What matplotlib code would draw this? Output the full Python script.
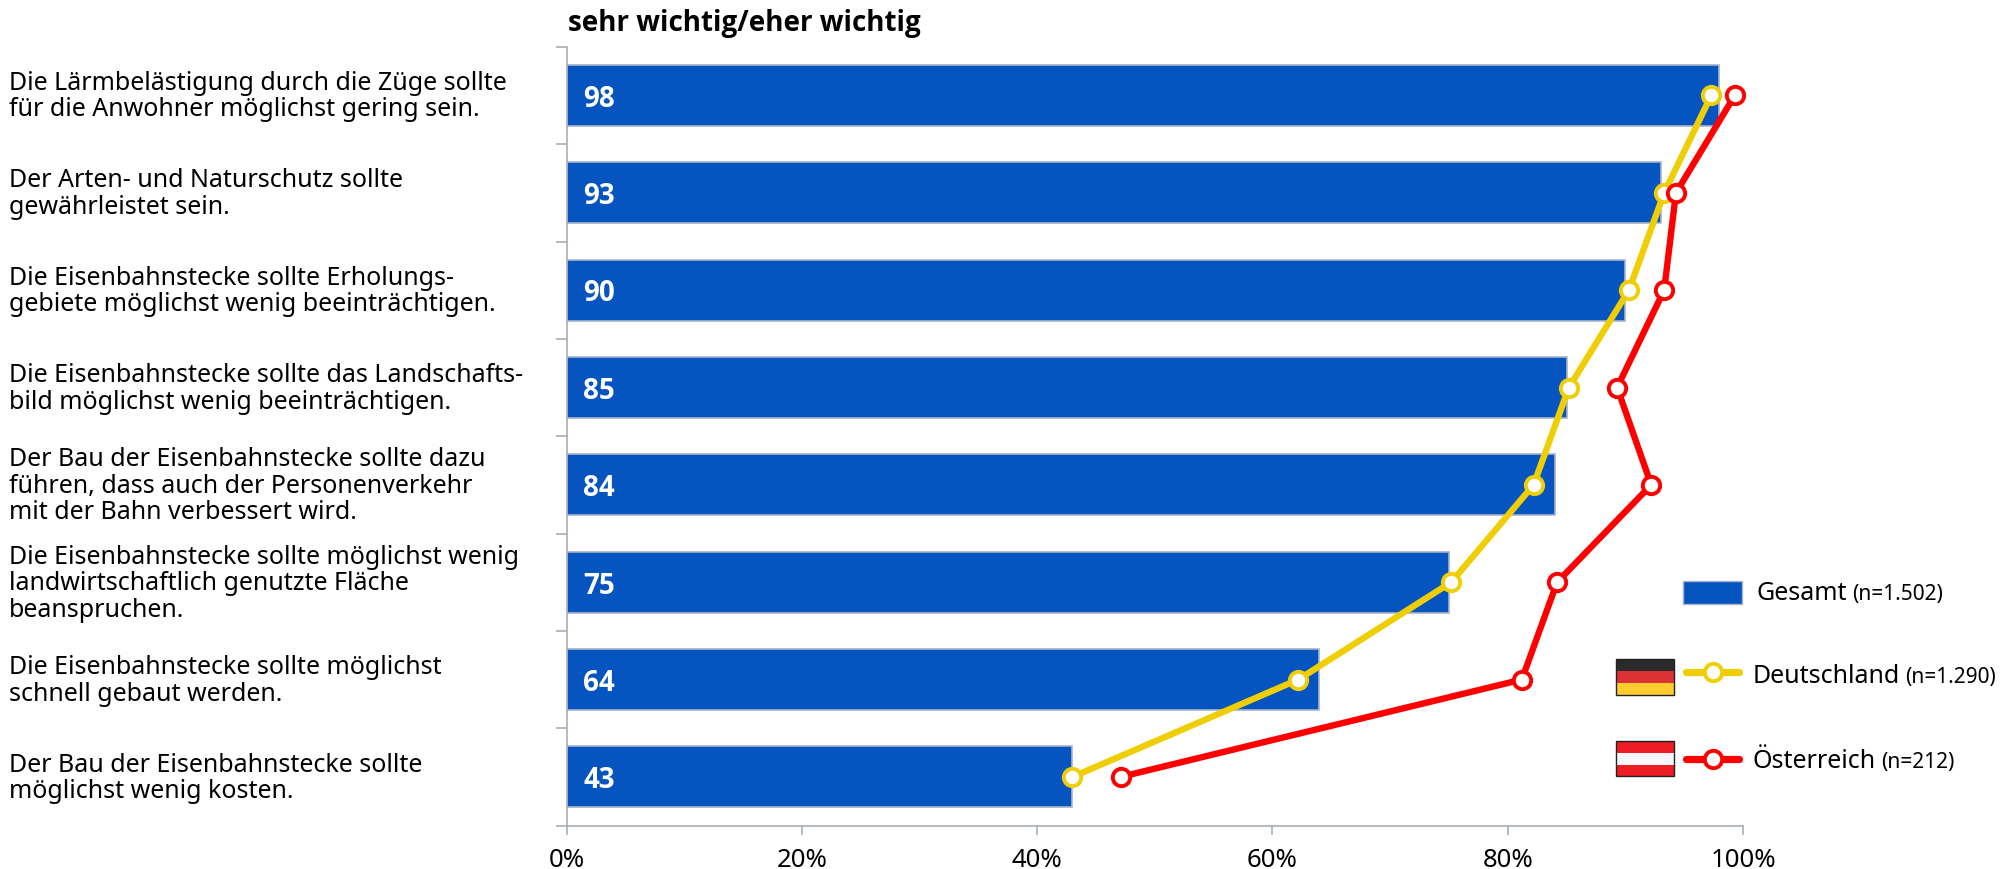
import matplotlib
matplotlib.use("Agg")
import matplotlib.pyplot as plt
from matplotlib.lines import Line2D
from matplotlib.patches import Rectangle
from matplotlib.ticker import FuncFormatter

plt.rcParams['font.family'] = ['Noto Sans', 'DejaVu Sans']
BOLD_FONT = ['Open Sans', 'DejaVu Sans']

statements = [
    "Die Lärmbelästigung durch die Züge sollte\nfür die Anwohner möglichst gering sein.",
    "Der Arten- und Naturschutz sollte\ngewährleistet sein.",
    "Die Eisenbahnstecke sollte Erholungs-\ngebiete möglichst wenig beeinträchtigen.",
    "Die Eisenbahnstecke sollte das Landschafts-\nbild möglichst wenig beeinträchtigen.",
    "Der Bau der Eisenbahnstecke sollte dazu\nführen, dass auch der Personenverkehr\nmit der Bahn verbessert wird.",
    "Die Eisenbahnstecke sollte möglichst wenig\nlandwirtschaftlich genutzte Fläche\nbeanspruchen.",
    "Die Eisenbahnstecke sollte möglichst\nschnell gebaut werden.",
    "Der Bau der Eisenbahnstecke sollte\nmöglichst wenig kosten.",
]
gesamt = [98, 93, 90, 85, 84, 75, 64, 43]
deutschland = [97.3, 93.3, 90.3, 85.2, 82.2, 75.2, 62.2, 43.0]
oesterreich = [99.3, 94.3, 93.3, 89.3, 92.2, 84.2, 81.2, 47.1]
x_ticks = [0, 20, 40, 60, 80, 100]

W, H = 2011, 870
BLUE = "#0554C0"
BAR_EDGE = "#A9B4C8"
AXIS = "#A8ADB8"
YELLOW = "#F0CE05"
RED = "#FF0000"
LINE_W = 4.6
MARKER = 12.5
MARKER_EDGE = 2.8

fig = plt.figure(figsize=(W / 100, H / 100), dpi=100)
left, right, top, bottom = 566.5, 1743, 47.8, 826.6
ax = fig.add_axes([left / W, 1 - bottom / H, (right - left) / W, (bottom - top) / H])

pos = list(range(len(gesamt)))
ax.barh(pos, gesamt, height=0.627, color=BLUE, edgecolor=BAR_EDGE, linewidth=1.2, zorder=2)
ax.plot(deutschland, pos, color=YELLOW, lw=LINE_W, marker="o", ms=MARKER, mfc="white",
        mec=YELLOW, mew=MARKER_EDGE, zorder=3, solid_joinstyle="miter", clip_on=False)
ax.plot(oesterreich, pos, color=RED, lw=LINE_W, marker="o", ms=MARKER, mfc="white",
        mec=RED, mew=MARKER_EDGE, zorder=4, solid_joinstyle="miter", clip_on=False)

ax.set_xlim(0, 100)
ax.set_ylim(len(gesamt) - 0.5, -0.5)
ax.set_xticks(x_ticks)
ax.xaxis.set_major_formatter(FuncFormatter(lambda v, _: f"{v:.0f}%"))
ax.set_yticks([p - 0.5 for p in pos] + [len(pos) - 0.5])
ax.set_yticklabels([])
ax.tick_params(axis="x", length=6.5, width=1.2, color=AXIS, labelsize=18.5, pad=9, labelcolor="black")
ax.tick_params(axis="y", length=8, width=1.2, color=AXIS)
for side in ("top", "right"):
    ax.spines[side].set_visible(False)
for side in ("left", "bottom"):
    ax.spines[side].set_color(AXIS)
    ax.spines[side].set_linewidth(1.2)

# Statement texts sit at the left edge of the figure, value labels inside the bars.
for p, s, v in zip(pos, statements, gesamt):
    fig.text(9 / W, 1 - (96.5 + p * 97.43) / H, s, fontsize=18, va="center", ha="left",
             linespacing=1.08, color="black")
    ax.annotate(str(v), (0, p), xytext=(12, -2), textcoords="offset points", va="center",
                ha="left", color="white", fontsize=20, fontweight="bold", family=BOLD_FONT, zorder=5)

fig.text(568 / W, 1 - 24 / H, "sehr wichtig/eher wichtig", fontsize=20, fontweight="bold",
         family=BOLD_FONT, va="center", ha="left")


# Legend block, laid out in pixel units on a full-figure overlay.
ov = fig.add_axes([0, 0, 1, 1], zorder=10)
ov.set_xlim(0, W)
ov.set_ylim(H, 0)
ov.axis("off")


def box(x0, y0, x1, y1, **kw):
    ov.add_patch(Rectangle((x0, y0), x1 - x0, y1 - y0, **kw))


box(1683, 582, 1742, 604.5, facecolor=BLUE, edgecolor=BAR_EDGE, linewidth=1)

box(1616, 660, 1674, 672, facecolor="#2B2B2B", edgecolor="none")
box(1616, 672, 1674, 684, facecolor="#DB3236", edgecolor="none")
box(1616, 684, 1674, 695.5, facecolor="#FFCC2E", edgecolor="none")
box(1616, 660, 1674, 695.5, facecolor="none", edgecolor="#222222", linewidth=1)

box(1616, 742, 1674, 754, facecolor="#EE1C25", edgecolor="none")
box(1616, 754, 1674, 765.5, facecolor="#F7F7F7", edgecolor="none")
box(1616, 765.5, 1674, 777, facecolor="#EE1C25", edgecolor="none")
box(1616, 742, 1674, 777, facecolor="none", edgecolor="#222222", linewidth=1)

for y, col in ((673, YELLOW), (760, RED)):
    ov.add_line(Line2D([1686, 1739], [y, y], color=col, lw=LINE_W + 0.6, solid_capstyle="round"))
    ov.add_line(Line2D([1713], [y], marker="o", ms=MARKER, mfc="white", mec=col, mew=MARKER_EDGE))

fig.canvas.draw()
renderer = fig.canvas.get_renderer()
for x, base, name, n in ((1757, 600, "Gesamt", "(n=1.502)"),
                         (1753, 683, "Deutschland", "(n=1.290)"),
                         (1753, 768, "Österreich", "(n=212)")):
    t = ov.text(x, base, name, fontsize=18, va="baseline", ha="left")
    w = t.get_window_extent(renderer).width
    ov.text(x + w + 5, base, n, fontsize=15, va="baseline", ha="left")

fig.savefig("out.png", dpi=100)
